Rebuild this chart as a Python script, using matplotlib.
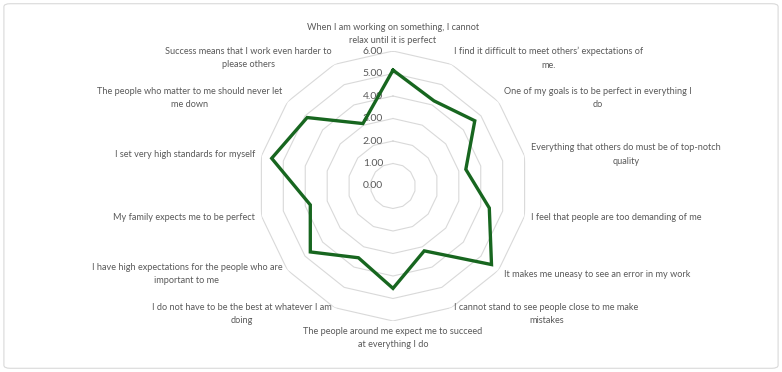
import numpy as np
import matplotlib
matplotlib.use("Agg")
import matplotlib.pyplot as plt
from matplotlib.patches import FancyBboxPatch

plt.rcParams['font.family'] = ['Lato', 'DejaVu Sans']

# categories, clockwise from the top
categories = [
    "When I am working on something, I cannot\nrelax until it is perfect",
    "I find it difficult to meet others\u2019 expectations of\nme.",
    "One of my goals is to be perfect in everything I\ndo",
    "Everything that others do must be of top-notch\nquality",
    "I feel that people are too demanding of me",
    "It makes me uneasy to see an error in my work",
    "I cannot stand to see people close to me make\nmistakes",
    "The people around me expect me to succeed\nat everything I do",
    "I do not have to be the best at whatever I am\ndoing",
    "I have high expectations for the people who are\nimportant to me",
    "My family expects me to be perfect",
    "I set very high standards for myself",
    "The people who matter to me should never let\nme down",
    "Success means that I work even harder to\nplease others",
]
scores = [5.15, 4.2, 4.65, 3.32, 4.39, 5.6, 3.2, 4.55, 3.54, 4.7, 3.77, 5.53, 4.88, 3.08]
ticks = [0, 1, 2, 3, 4, 5, 6]

txt = "#595959"
grid_col = "#d9d9d9"
green = "#17661f"

fig = plt.figure(figsize=(7.82, 3.72), dpi=100)
fig.patches.append(FancyBboxPatch((0.005, 0.01), 0.99, 0.98, boxstyle="round,pad=0,rounding_size=0.008",
                                  transform=fig.transFigure, fill=False, ec=grid_col, lw=0.8))

ax = fig.add_axes([0.3299, 0.1371, 0.3453, 0.7258], projection="polar")
ax.set_theta_zero_location("N")
ax.set_theta_direction(-1)
ax.set_ylim(0, 6)
ax.grid(False)
ax.spines["polar"].set_visible(False)
ax.set_xticks([])
ax.set_yticks([])
ax.patch.set_alpha(0)

n = len(categories)
ang = np.linspace(0, 2 * np.pi, n, endpoint=False)
ang_c = np.append(ang, ang[0])

for t in ticks[1:]:
    ax.plot(ang_c, [t] * (n + 1), color=grid_col, lw=0.8, zorder=1)

for t in ticks:
    ax.annotate(f"{t:.2f}", xy=(0, t), xytext=(-10, 0), textcoords="offset pixels",
                ha="right", va="center", fontsize=7.5, color=txt)

vals = scores + scores[:1]
ax.plot(ang_c, vals, color=green, lw=2.4, zorder=3, solid_joinstyle="miter")

for a, lab in zip(ang, categories):
    s, c = np.sin(a), np.cos(a)
    if abs(s) < 0.1:
        ax.text(a, 6.25, lab, ha="center", va="bottom" if c > 0 else "top",
                multialignment="center", fontsize=6.6, color=txt, linespacing=1.6)
    else:
        ax.text(a, 6.3, lab, ha="left" if s > 0 else "right", va="center",
                multialignment="center", fontsize=6.6, color=txt, linespacing=1.6)

fig.savefig("out.png", dpi=100)
